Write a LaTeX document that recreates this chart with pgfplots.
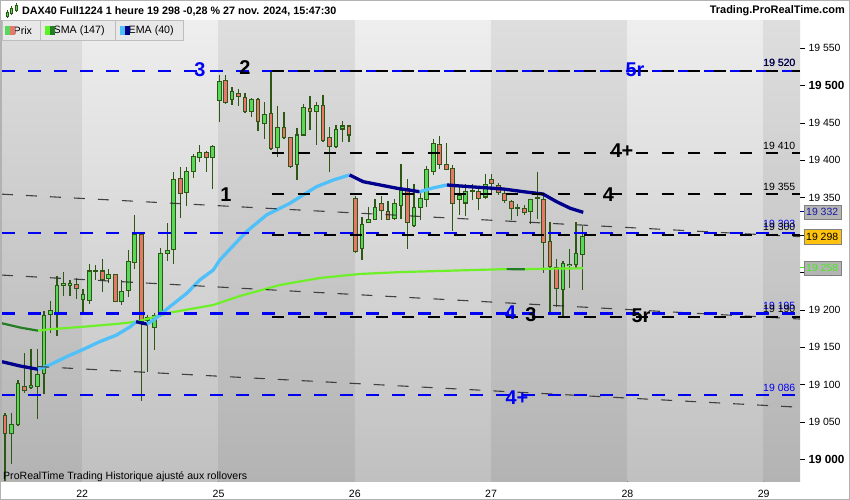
\documentclass[border=0pt]{standalone}
\usepackage{pgfplots}
\pgfplotsset{compat=1.18}
\usepackage{pgfplotstable}
\usepackage{fontspec}
\setmainfont{Liberation Sans}
\definecolor{wick}{RGB}{45,88,20}
\definecolor{upfill}{RGB}{88,216,88}
\definecolor{dnfill}{RGB}{232,118,106}
\definecolor{lvlblue}{RGB}{0,0,245}
\definecolor{emalight}{RGB}{80,192,250}
\definecolor{emadark}{RGB}{0,0,140}
\definecolor{smalight}{RGB}{110,240,40}
\definecolor{smadark}{RGB}{35,125,35}
\definecolor{trend}{RGB}{40,40,40}
\definecolor{bgLtop}{RGB}{238,238,238}
\definecolor{bgLbot}{RGB}{192,192,192}
\definecolor{bgDtop}{RGB}{222,222,222}
\definecolor{bgDbot}{RGB}{179,179,179}
\definecolor{legbg}{RGB}{232,232,232}
\definecolor{legborder}{RGB}{190,190,190}
\definecolor{boxgray}{RGB}{180,180,180}
\definecolor{boxgold}{RGB}{255,194,14}
\definecolor{boxtxtblue}{RGB}{25,25,160}
\definecolor{boxtxtgreen}{RGB}{70,235,30}
\newcommand{\fs}[1]{\fontsize{#1}{#1}\selectfont}

% candles: g = hourly candle index, o h l c = open high low close
\pgfplotstableread{
g o h l c
1 19035 19062 18994 19047
2 19046 19106 19044 19101
4 19096 19148 19094 19099
5 19098 19147 19054 19114
6 19115 19198 19088 19193
7 19194 19212 19169 19199
8 19196 19245 19165 19232
9 19232 19250 19218 19235
10 19233 19240 19218 19235
12 19214 19228 19196 19220
13 19213 19262 19208 19252
14 19252 19260 19240 19253
16 19242 19255 19236 19247
18 19211 19240 19207 19224
19 19226 19280 19217 19265
20 19263 19327 19255 19301
22 19186 19193 19117 19190
23 19176 19196 19146 19193
24 19193 19283 19190 19276
25 19276 19316 19266 19279
26 19281 19384 19262 19375
28 19357 19391 19339 19385
29 19385 19409 19377 19405
30 19404 19420 19398 19411
32 19404 19420 19362 19419
33 19480 19514 19452 19506
35 19482 19498 19474 19492
38 19466 19483 19458 19482
40 19450 19478 19429 19461
42 19417 19473 19405 19444
45 19394 19444 19374 19434
46 19434 19475 19433 19471
48 19466 19478 19420 19474
51 19418 19447 19417 19441
52 19442 19453 19425 19446
55 19282 19324 19267 19314
56 19317 19338 19316 19321
57 19321 19349 19320 19337
60 19322 19349 19320 19342
61 19340 19395 19321 19360
63 19313 19369 19311 19337
64 19337 19357 19320 19349
65 19348 19392 19338 19388
66 19385 19428 19380 19423
70 19348 19365 19327 19353
71 19343 19368 19325 19358
72 19359 19368 19347 19360
74 19351 19382 19349 19368
79 19336 19342 19326 19337
81 19331 19349 19315 19348
82 19349 19385 19321 19350
86 19227 19265 19191 19262
87 19259 19282 19229 19261
88 19261 19317 19256 19275
89 19274 19312 19226 19298
}\upc

\pgfplotstableread{
g o h l c
0 19059 19062 18971 19035
3 19097 19142 19089 19092
11 19234 19242 19214 19229
15 19252 19268 19224 19241
17 19247 19248 19210 19211
21 19301 19302 19078 19184
27 19376 19391 19323 19356
31 19410 19413 19385 19404
34 19507 19514 19476 19478
36 19490 19495 19473 19486
37 19484 19490 19464 19465
39 19482 19483 19440 19452
41 19463 19519 19414 19416
43 19444 19465 19428 19430
44 19430 19431 19390 19392
47 19470 19486 19441 19465
49 19474 19488 19425 19427
50 19430 19445 19385 19418
53 19446 19448 19425 19434
54 19349 19352 19276 19278
58 19342 19352 19320 19333
59 19331 19345 19320 19321
62 19362 19375 19282 19317
67 19421 19433 19388 19394
68 19394 19423 19387 19388
69 19389 19394 19305 19342
73 19358 19366 19334 19349
75 19374 19382 19356 19369
76 19366 19370 19354 19357
77 19356 19363 19343 19346
78 19345 19347 19320 19336
80 19336 19340 19327 19330
83 19348 19356 19249 19290
84 19291 19318 19194 19258
85 19257 19268 19204 19228
}\dnc

\begin{document}
\begin{tikzpicture}
\useasboundingbox (0,0) rectangle (850bp,500bp);
\fill[white] (0,0) rectangle (850bp,500bp);
\begin{axis}[
  at={(2bp,18bp)}, anchor=south west,
  scale only axis, width=798bp, height=462bp,
  xmin=-0.46, xmax=122.5, ymin=18969.6, ymax=19587.9,
  axis line style={draw=none},
  clip mode=individual,
  xtick={11.9,32.9,53.9,74.9,95.9,116.9},
  xticklabels={22,25,26,27,28,29},
  xtick pos=bottom,
  x tick style={draw=none},
  x tick label style={font=\fs{10.6}, anchor=north, yshift=0bp},
  ytick={19000,19050,...,19550},
  yticklabels={{\fs{11.8}\bfseries 19 000},19 050,19 100,19 150,19 200,19 250,19 300,19 350,19 400,19 450,{\fs{11.8}\bfseries 19 500},19 550},
  ytick pos=right,
  yticklabel pos=right,
  tick align=outside,
  y tick style={draw=black, line width=0.6bp},
  major tick length=5bp,
  y tick label style={font=\fs{10.5}, anchor=west},
]
% day bands
\fill[top color=bgDtop, bottom color=bgDbot] (axis cs:-0.46,18969.6) rectangle (axis cs:11.9,19587.9);
\fill[top color=bgLtop, bottom color=bgLbot] (axis cs:11.9,18969.6) rectangle (axis cs:32.9,19587.9);
\fill[top color=bgDtop, bottom color=bgDbot] (axis cs:32.9,18969.6) rectangle (axis cs:53.9,19587.9);
\fill[top color=bgLtop, bottom color=bgLbot] (axis cs:53.9,18969.6) rectangle (axis cs:74.9,19587.9);
\fill[top color=bgDtop, bottom color=bgDbot] (axis cs:74.9,18969.6) rectangle (axis cs:95.9,19587.9);
\fill[top color=bgLtop, bottom color=bgLbot] (axis cs:95.9,18969.6) rectangle (axis cs:116.9,19587.9);
\fill[top color=bgDtop, bottom color=bgDbot] (axis cs:116.9,18969.6) rectangle (axis cs:122.5,19587.9);

% wicks
\addplot[draw=none, mark=none, forget plot, error bars/.cd, y dir=both, y explicit, error mark=none,
  error bar style={draw=wick, line width=1.3bp}]
  table[x=g, y=h, y error plus expr=0, y error minus expr=\thisrow{h}-\thisrow{l}] {\upc};
\addplot[draw=none, mark=none, forget plot, error bars/.cd, y dir=both, y explicit, error mark=none,
  error bar style={draw=wick, line width=1.3bp}]
  table[x=g, y=h, y error plus expr=0, y error minus expr=\thisrow{h}-\thisrow{l}] {\dnc};
% bodies: outline
\addplot[draw=none, mark=none, forget plot, error bars/.cd, y dir=both, y explicit, error mark=none,
  error bar style={draw=wick, line width=4.7bp}]
  table[x=g, y=c, y error plus expr=0.7, y error minus expr=\thisrow{c}-\thisrow{o}+0.7] {\upc};
\addplot[draw=none, mark=none, forget plot, error bars/.cd, y dir=both, y explicit, error mark=none,
  error bar style={draw=wick, line width=4.7bp}]
  table[x=g, y=o, y error plus expr=0.7, y error minus expr=\thisrow{o}-\thisrow{c}+0.7] {\dnc};
% bodies: fill
\addplot[draw=none, mark=none, forget plot, error bars/.cd, y dir=both, y explicit, error mark=none,
  error bar style={draw=upfill, line width=2.7bp}]
  table[x=g, y expr=\thisrow{c}-0.7, y error plus expr=0, y error minus expr={max(\thisrow{c}-\thisrow{o}-1.4,0)}] {\upc};
\addplot[draw=none, mark=none, forget plot, error bars/.cd, y dir=both, y explicit, error mark=none,
  error bar style={draw=dnfill, line width=2.7bp}]
  table[x=g, y expr=\thisrow{o}-0.7, y error plus expr=0, y error minus expr={max(\thisrow{o}-\thisrow{c}-1.4,0)}] {\dnc};

% SMA 147
\addplot[smadark, line width=2.2bp, line join=round] coordinates {(-0.46,19182) (2.5,19176) (5.1,19172.1)};
\addplot[smalight, line width=2.2bp, line join=round] coordinates {(5.1,19172.1) (6.9,19174) (12.1,19177.4) (17.2,19181.1) (20.3,19184.1) (25.4,19196.2) (32.1,19206.5) (36.2,19218.5) (42.4,19233.3) (48.5,19242.6) (54.7,19248) (60.9,19250.5) (67,19252) (72.2,19253.3) (77.3,19254.5)};
\addplot[smadark, line width=2.2bp] coordinates {(77.3,19254.5) (80.1,19254.3)};
\addplot[smalight, line width=2.2bp, line join=round] coordinates {(80.1,19254.3) (83.2,19255) (89.1,19255.6)};

% EMA 40
\addplot[emadark, line width=3.3bp, line join=round] coordinates {(-0.46,19130.6) (2.3,19124.9) (5.1,19120.4)};
\addplot[emalight, line width=3.3bp, line join=round] coordinates {(5.1,19120.4) (6.9,19126.2) (9.5,19137.3) (12.1,19147.2) (14.6,19157.4) (17.2,19166.3) (19.3,19177.4) (20.2,19184.1)};
\addplot[emadark, line width=3.3bp, line join=round] coordinates {(20.2,19184.1) (21.0,19182.5) (21.9,19181)};
\addplot[emalight, line width=3.3bp, line join=round] coordinates {(21.9,19181) (22.9,19186.4) (25.4,19204.2) (28,19222.1) (30,19239.9) (32.1,19253.3) (33.1,19266.7) (37.2,19304.6) (40.3,19327) (43.9,19342.6) (48,19364.8) (50.6,19373.8) (53.1,19380.5)};
\addplot[emadark, line width=3.3bp, line join=round] coordinates {(53.1,19380.5) (55.2,19371.5) (57.8,19367.1) (60.4,19362.7) (63.9,19358.1)};
\addplot[emalight, line width=3.3bp, line join=round] coordinates {(63.9,19358.1) (65.9,19363) (68.1,19367.1)};
\addplot[emadark, line width=3.3bp, line join=round] coordinates {(68.1,19367.1) (71.6,19364.8) (76.8,19361.7) (79.9,19358.1) (82.9,19355) (85,19344.7) (87.1,19335.9) (89.1,19330.5)};

% trend lines
\addplot[trend, line width=1.1bp, dash pattern=on 11bp off 13bp, opacity=0.85] coordinates {(-0.46,19354.8) (122.5,19297.9)};
\addplot[trend, line width=1.1bp, dash pattern=on 11bp off 13bp, opacity=0.85] coordinates {(-0.46,19246.5) (122.5,19187.7)};
\addplot[trend, line width=1.1bp, dash pattern=on 11bp off 13bp, opacity=0.85] coordinates {(5.1,19124.1) (122.5,19069.6)};

% levels
\addplot[lvlblue, line width=2.2bp, dash pattern=on 13bp off 13bp] coordinates {(-0.46,19520) (122.5,19520)};
\addplot[lvlblue, line width=2.2bp, dash pattern=on 13bp off 13bp] coordinates {(-0.46,19303) (122.5,19303)};
\addplot[lvlblue, line width=2.2bp, dash pattern=on 13bp off 13bp] coordinates {(-0.46,19195) (122.5,19195)};
\addplot[lvlblue, line width=2.2bp, dash pattern=on 13bp off 13bp] coordinates {(-0.46,19086) (122.5,19086)};
\addplot[black, line width=2.2bp, dash pattern=on 12.5bp off 13.5bp] coordinates {(41.07,19520) (122.5,19520)};
\addplot[black, line width=2.2bp, dash pattern=on 12.5bp off 13.5bp] coordinates {(41.07,19410) (122.5,19410)};
\addplot[black, line width=2.2bp, dash pattern=on 12.5bp off 13.5bp] coordinates {(41.07,19355) (122.5,19355)};
\addplot[black, line width=2.2bp, dash pattern=on 12.5bp off 13.5bp] coordinates {(41.07,19300) (122.5,19300)};
\addplot[black, line width=2.2bp, dash pattern=on 12.5bp off 13.5bp] coordinates {(41.07,19190) (122.5,19190)};

% level value labels
\node[font=\fs{10.5}, text=lvlblue] at (axis cs:119.3,19530.3) {19 520};
\node[font=\fs{10.5}] at (axis cs:119.35,19530.8) {19 520};
\node[font=\fs{10.5}] at (axis cs:119.3,19419.3) {19 410};
\node[font=\fs{10.5}] at (axis cs:119.3,19364) {19 355};
\node[font=\fs{10.5}, text=lvlblue] at (axis cs:119.3,19314.9) {19 303};
\node[font=\fs{10.5}] at (axis cs:119.3,19310.5) {19 300};
\node[font=\fs{10.5}, text=lvlblue] at (axis cs:119.3,19205.2) {19 195};
\node[font=\fs{10.5}] at (axis cs:119.3,19200.7) {19 190};
\node[font=\fs{10.5}, text=lvlblue] at (axis cs:119.3,19095.4) {19 086};

% wave annotations
\node[font=\fs{20}\bfseries, text=lvlblue] at (axis cs:30.05,19520.9) {3};
\node[font=\fs{20}\bfseries] at (axis cs:36.98,19523.6) {2};
\node[font=\fs{20}\bfseries] at (axis cs:34.05,19353.7) {1};
\node[font=\fs{20}\bfseries, text=lvlblue] at (axis cs:97.07,19520.9) {5r};
\node[font=\fs{20}\bfseries] at (axis cs:95.07,19412.6) {4+};
\node[font=\fs{20}\bfseries] at (axis cs:92.99,19353.7) {4};
\node[font=\fs{20}\bfseries, text=lvlblue] at (axis cs:77.89,19196.5) {4};
\node[font=\fs{20}\bfseries] at (axis cs:81.05,19193.8) {3};
\node[font=\fs{20}\bfseries] at (axis cs:98.0,19191.8) {5r};
\node[font=\fs{20}\bfseries, text=lvlblue] at (axis cs:78.89,19082.1) {4+};

\coordinate (b332) at (axis cs:122.5,19331);
\coordinate (b298) at (axis cs:122.5,19298);
\coordinate (b258) at (axis cs:122.5,19256);
\end{axis}

% price boxes on the right scale
\draw[emadark, line width=1bp] (b332) -- ++(4bp,0);
\node[anchor=west, fill=boxgray, draw=gray, inner xsep=2.5bp, inner ysep=0pt, minimum height=14.5bp, font=\fs{10.5}, text=boxtxtblue] at ([xshift=3.5bp]b332) {19 332};
\node[anchor=west, fill=boxgold, draw=gray, inner xsep=2.5bp, inner ysep=0pt, minimum height=14.5bp, font=\fs{10.5}] at ([xshift=3.5bp]b298) {19 298};
\draw[boxtxtgreen, line width=1bp] (b258) -- ++(4bp,0);
\node[anchor=west, fill=boxgray, draw=gray, inner xsep=2.5bp, inner ysep=0pt, minimum height=14.5bp, font=\fs{10.5}, text=boxtxtgreen] at ([xshift=3.5bp]b258) {19 258};

% title row
\fill[white] (0,480bp) rectangle (850bp,500bp);
\node[anchor=west, font=\fs{10.8}\bfseries, inner sep=0pt] at (22bp,489bp) {DAX40 Full1224 1 heure 19 298 -0,28 \% 27 nov. 2024, 15:47:30};
\node[anchor=east, font=\fs{11}\bfseries, inner sep=0pt] at (845bp,489bp) {Trading.ProRealTime.com};
% title icon
\draw[wick, line width=0.9bp] (7bp,482bp) -- (7bp,490bp) (11.5bp,485bp) -- (11.5bp,494bp) (16bp,488bp) -- (16bp,497bp);
\draw[wick, fill=upfill, line width=0.6bp] (5.8bp,484bp) rectangle (8.2bp,488bp) (10.3bp,487bp) rectangle (12.7bp,492bp) (14.8bp,490bp) rectangle (17.2bp,495bp);

% legend row
\draw[legborder, fill=legbg] (2bp,460bp) rectangle (40bp,479.5bp);
\draw[legborder, fill=legbg] (40bp,460bp) rectangle (115bp,479.5bp);
\draw[legborder, fill=legbg] (115bp,460bp) rectangle (183bp,479.5bp);
\node[anchor=west, font=\fs{10.7}, inner sep=0pt] at (13.5bp,469.5bp) {Prix};
\node[anchor=west, font=\fs{10.7}, inner sep=0pt] at (53.5bp,469.5bp) {SMA (147)};
\node[anchor=west, font=\fs{10.7}, inner sep=0pt] at (128.5bp,469.5bp) {EMA (40)};
\fill[upfill] (5bp,465bp) rectangle (10bp,473.5bp);
\fill[dnfill] (10bp,465bp) rectangle (15bp,473.5bp);
\fill[smalight!80!green] (45bp,465bp) rectangle (50bp,473.5bp);
\fill[smadark] (50bp,465bp) rectangle (55bp,473.5bp);
\fill[emalight] (120bp,465bp) rectangle (125bp,473.5bp);
\fill[emadark] (125bp,465bp) rectangle (130bp,473.5bp);

% footer note
\node[anchor=base west, font=\fs{10.6}, inner sep=0pt] at (3bp,21bp) {ProRealTime Trading Historique ajusté aux rollovers};

% frame
\draw[gray!60, line width=1bp] (0.5bp,0.5bp) rectangle (849.5bp,499.5bp);
\draw[gray!60, line width=1.5bp] (1.2bp,18bp) -- (1.2bp,480bp);
\end{tikzpicture}
\end{document}
